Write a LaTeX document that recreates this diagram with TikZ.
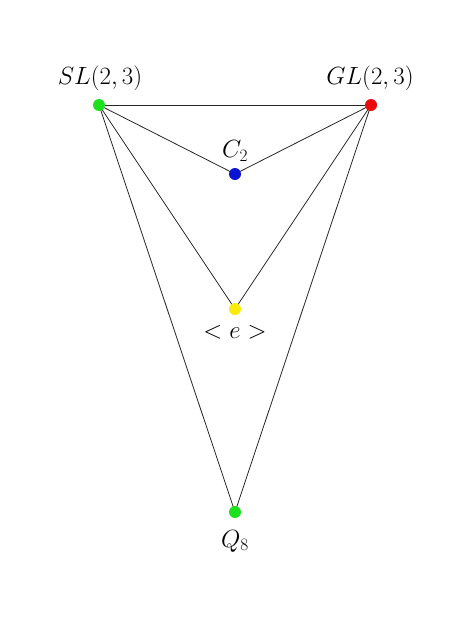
\documentclass[tikz,border=0pt]{standalone}
\begin{document}
\begin{tikzpicture}[x=1pt,y=-1pt,
  dot/.style={circle,inner sep=0pt,minimum size=12pt,draw=none},
  lbl/.style={inner sep=0pt,font=\fontsize{24}{28}\selectfont},
  edge/.style={draw=black!85,line width=0.8pt}]
\useasboundingbox (0,0) rectangle (474,624);
\coordinate (sl) at (99,105);
\coordinate (gl) at (371,105);
\coordinate (c2) at (235,174);
\coordinate (e) at (235,309);
\coordinate (q8) at (235,512);
\draw[edge] (sl) -- (gl);
\draw[edge] (sl) -- (c2);
\draw[edge] (gl) -- (c2);
\draw[edge] (sl) -- (e);
\draw[edge] (gl) -- (e);
\draw[edge] (sl) -- (q8);
\draw[edge] (gl) -- (q8);
\node[dot,fill={rgb,255:red,30;green,225;blue,30}] (slN) at (sl) {};
\node[dot,fill={rgb,255:red,235;green,10;blue,10}] (glN) at (gl) {};
\node[dot,fill={rgb,255:red,10;green,20;blue,210}] (c2N) at (c2) {};
\node[dot,fill={rgb,255:red,250;green,235;blue,10}] (eN) at (e) {};
\node[dot,fill={rgb,255:red,30;green,225;blue,30}] (q8N) at (q8) {};
\node[lbl] (slL) at (100,78) {$SL(2,3)$};
\node[lbl] (glL) at (370,78) {$GL(2,3)$};
\node[lbl] (c2L) at (235,151) {$C_2$};
\node[lbl] (eL) at (235,332) {$<e>$};
\node[lbl] (q8L) at (235,541) {$Q_8$};
\end{tikzpicture}
\end{document}
